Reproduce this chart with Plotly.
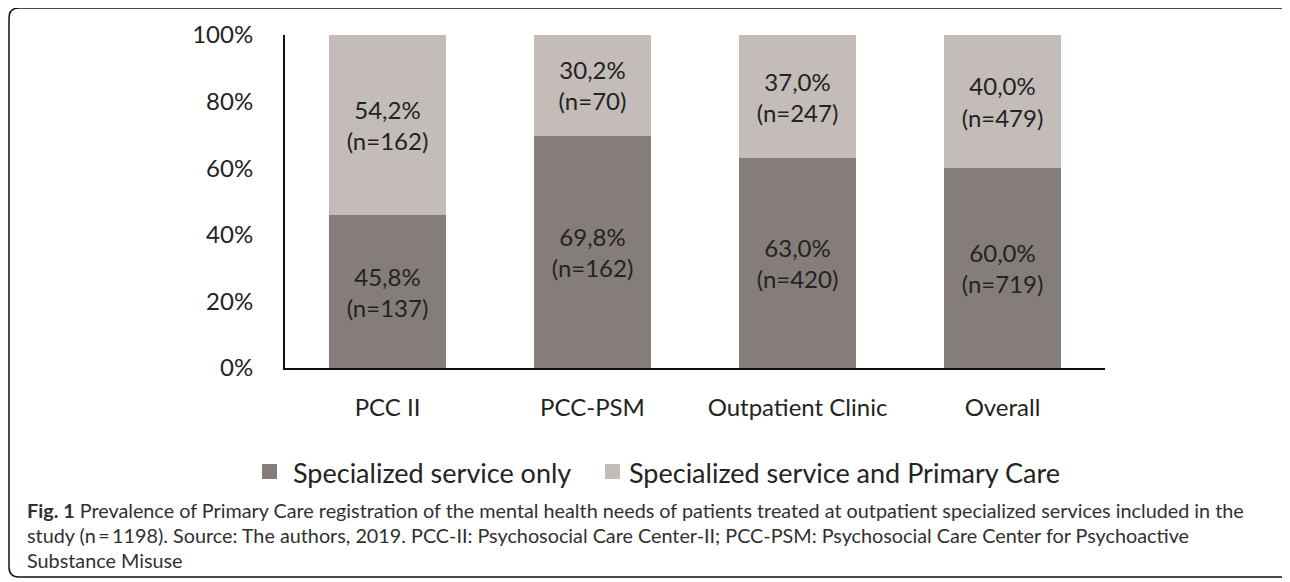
import plotly.graph_objects as go

# ---- data ----
categories = ["PCC II", "PCC-PSM", "Outpatient Clinic", "Overall"]
spec_only_pct = [45.8, 69.8, 63.0, 60.0]
spec_only_n = [137, 162, 420, 719]
both_pct = [54.2, 30.2, 37.0, 40.0]
both_n = [162, 70, 247, 479]
series_names = ["Specialized service only", "Specialized service and Primary Care"]
y_ticks = [0, 20, 40, 60, 80, 100]
caption_lines = [
    "<b>Fig. 1</b> Prevalence of Primary Care registration of the mental health needs of patients treated at outpatient specialized services included in the",
    "study (n\u2009=\u20091198). Source: The authors, 2019. PCC-II: Psychosocial Care Center-II; PCC-PSM: Psychosocial Care Center for Psychoactive",
    "Substance Misuse",
]

# ---- style ----
OFF = 8  # page body margin
W, H = 1290 - OFF, 582 - OFF
# plot area in screen pixels
SL, SR, ST, SB = 285, 1105, 35, 368
L, R, T, B = SL - OFF, SR - OFF, ST - OFF, SB - OFF
DARK = "#857d79"
LIGHT = "#c4bcb9"
TXT = "#232323"
FONT = "Lato"


def px(x):
    """screen x pixel -> paper"""
    return (x - OFF - L) / (R - L)


def py(y):
    """screen y pixel -> paper"""
    return (B - (y - OFF)) / (B - T)


def fmt(p, n):
    return f"{p:.1f}%".replace(".", ",") + f"<br>(n={n})"


fig = go.Figure()
for vals, ns, col, name in [(spec_only_pct, spec_only_n, DARK, series_names[0]),
                            (both_pct, both_n, LIGHT, series_names[1])]:
    fig.add_trace(go.Bar(
        x=categories, y=vals, name=name,
        marker=dict(color=col, line=dict(width=0)),
        text=[fmt(p, n) for p, n in zip(vals, ns)],
        textposition="inside", insidetextanchor="middle",
        textfont=dict(family=FONT, size=24, color=TXT),
        constraintext="none", hoverinfo="skip",
    ))

fig.update_layout(
    barmode="stack", bargap=0.434,
    width=W, height=H,
    margin=dict(l=L, r=W - R, t=T, b=H - B, pad=0),
    paper_bgcolor="white", plot_bgcolor="white",
    showlegend=False,
    font=dict(family=FONT, color=TXT),
    uniformtext=dict(minsize=24, mode="show"),
)
fig.update_yaxes(
    range=[0, 100], tickvals=y_ticks, ticktext=[f"{v}%" for v in y_ticks],
    showgrid=False, zeroline=False, showline=True, linecolor="#111111", linewidth=2,
    ticks="", ticklabelstandoff=25, tickfont=dict(family=FONT, size=24, color=TXT),
)
fig.update_xaxes(
    range=[-0.5, 3.5], showgrid=False, zeroline=False,
    showline=True, linecolor="#111111", linewidth=2,
    ticks="", ticklabelstandoff=17, tickfont=dict(family=FONT, size=24, color=TXT),
)

# custom legend (screen pixel positions)
leg = [(262, 291, DARK, series_names[0]), (605, 627, LIGHT, series_names[1])]
for sx, tx, col, name in leg:
    fig.add_shape(type="rect", xref="paper", yref="paper",
                  x0=px(sx), x1=px(sx + 15), y0=py(479), y1=py(464),
                  fillcolor=col, line=dict(width=0))
    fig.add_annotation(text=name, xref="paper", yref="paper",
                       x=px(tx), y=py(472), xanchor="left", yanchor="middle",
                       showarrow=False, font=dict(family=FONT, size=27, color=TXT))

# caption
for i, line in enumerate(caption_lines):
    fig.add_annotation(text=line, xref="paper", yref="paper",
                       x=px(25), y=py(510 + 25 * i), xanchor="left", yanchor="middle",
                       showarrow=False, font=dict(family=FONT, size=19.8, color="#303030"))

# frame (rounded rectangle), screen pixels; right edge sits just past the view
fx0, fx1, fy0, fy1, r = 9, 1291, 8, 577, 10
path = (
    f"M {px(fx0 + r)} {py(fy0)} L {px(fx1 - r)} {py(fy0)} "
    f"Q {px(fx1)} {py(fy0)} {px(fx1)} {py(fy0 + r)} "
    f"L {px(fx1)} {py(fy1 - r)} Q {px(fx1)} {py(fy1)} {px(fx1 - r)} {py(fy1)} "
    f"L {px(fx0 + r)} {py(fy1)} Q {px(fx0)} {py(fy1)} {px(fx0)} {py(fy1 - r)} "
    f"L {px(fx0)} {py(fy0 + r)} Q {px(fx0)} {py(fy0)} {px(fx0 + r)} {py(fy0)} Z"
)
fig.add_shape(type="path", xref="paper", yref="paper", path=path,
              line=dict(color="#111111", width=1.5), fillcolor="rgba(0,0,0,0)")

fig.write_html(
    "out.html",
    post_script="document.documentElement.style.overflow='hidden';"
                "document.body.style.overflow='hidden';",
)
